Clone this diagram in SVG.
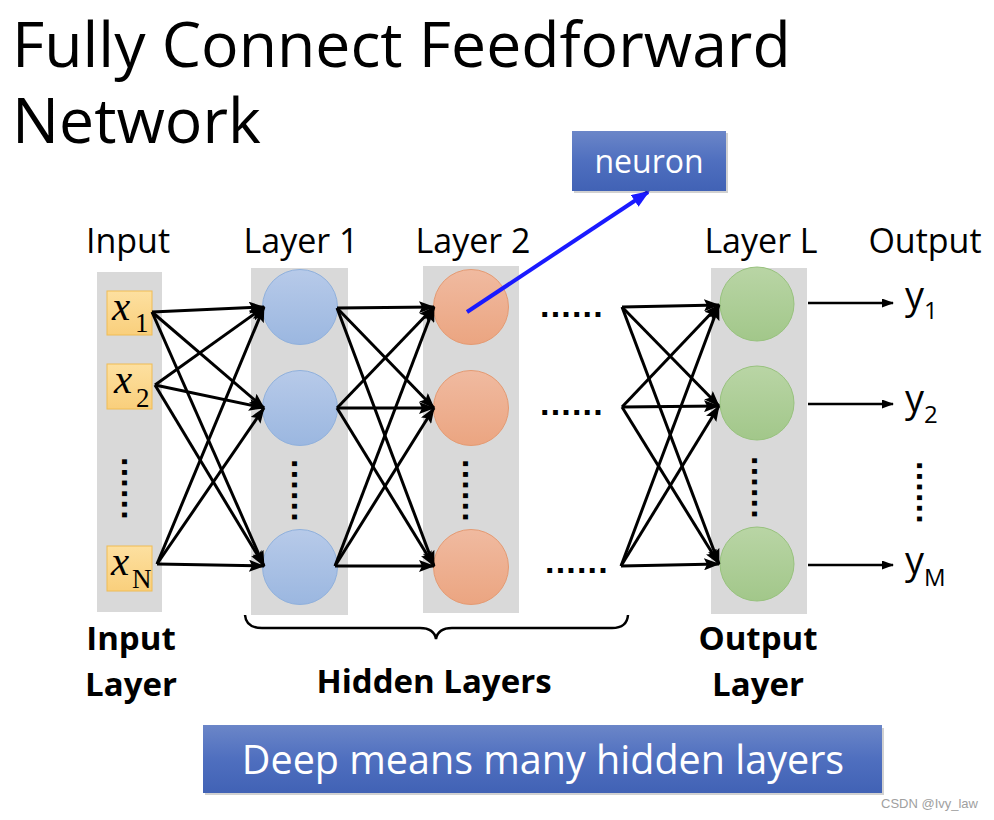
<svg xmlns="http://www.w3.org/2000/svg" width="994" height="820" viewBox="0 0 994 820">
<style>
.t{font-family:"Open Sans","Liberation Sans",sans-serif;fill:#000}
.b{font-family:"Open Sans","Liberation Sans",sans-serif;font-weight:bold;fill:#000}
.w{font-family:"Open Sans","Liberation Sans",sans-serif;fill:#fff}
.col{fill:#d9d9d9}
.xv{font-family:"Liberation Serif","DejaVu Serif",serif;font-style:italic;font-size:41px}
.xs{font-family:"Liberation Serif","DejaVu Serif",serif;font-size:27px}
.dots{font-family:"Liberation Sans",sans-serif;font-weight:bold;font-size:34px;letter-spacing:1.2px;fill:#000}
.conn line{stroke:#000;stroke-width:3;marker-end:url(#ah)}
.out line{stroke:#000;stroke-width:2.5;marker-end:url(#ahs)}
.blue{fill:url(#gb);stroke:#8fb0dc;stroke-width:1}
.ora{fill:url(#go);stroke:#e49a72;stroke-width:1}
.grn{fill:url(#gg);stroke:#98c27e;stroke-width:1}
.inbox{fill:url(#gy);stroke:#f0bc55;stroke-width:1}
</style>
<defs>
<linearGradient id="gb" x1="0" y1="0" x2="0" y2="1"><stop offset="0" stop-color="#b7cae9"/><stop offset="1" stop-color="#9bb7e0"/></linearGradient>
<linearGradient id="go" x1="0" y1="0" x2="0" y2="1"><stop offset="0" stop-color="#f0baa0"/><stop offset="1" stop-color="#eba581"/></linearGradient>
<linearGradient id="gg" x1="0" y1="0" x2="0" y2="1"><stop offset="0" stop-color="#b9d5a5"/><stop offset="1" stop-color="#a2c78a"/></linearGradient>
<linearGradient id="gy" x1="0" y1="0" x2="0" y2="1"><stop offset="0" stop-color="#fde0a0"/><stop offset="1" stop-color="#f9cf7c"/></linearGradient>
<linearGradient id="gbox" x1="0" y1="0" x2="0" y2="1"><stop offset="0" stop-color="#6b86c8"/><stop offset="0.5" stop-color="#4f6fbf"/><stop offset="1" stop-color="#4162b5"/></linearGradient>
<marker id="ah" markerUnits="userSpaceOnUse" markerWidth="16" markerHeight="12" refX="15" refY="6" orient="auto"><path d="M0,0 L16,6 L0,12 L3,6 z" fill="#000"/></marker>
<marker id="ahs" markerUnits="userSpaceOnUse" markerWidth="12" markerHeight="9" refX="11" refY="4.5" orient="auto"><path d="M0,0 L12,4.5 L0,9 z" fill="#000"/></marker>
<marker id="ahb" markerUnits="userSpaceOnUse" markerWidth="18" markerHeight="14" refX="16" refY="7" orient="auto"><path d="M0,0 L18,7 L0,14 z" fill="#1a1aff"/></marker>
</defs>
<rect width="994" height="820" fill="#fff"/>

<g id="title">
<text class="t" font-size="62.5"><tspan x="12" y="67">Fully Connect Feedforward</tspan><tspan x="12" y="143">Network</tspan></text>
</g>

<g id="labels">
<text class="t" x="128" y="253" font-size="34" text-anchor="middle">Input</text>
<text class="t" x="301" y="253" font-size="34" text-anchor="middle">Layer 1</text>
<text class="t" x="473" y="253" font-size="34" text-anchor="middle">Layer 2</text>
<text class="t" x="761" y="253" font-size="34" text-anchor="middle">Layer L</text>
<text class="t" x="925" y="253" font-size="34" text-anchor="middle">Output</text>
</g>

<g id="input-layer">
<rect class="col" x="97" y="272" width="65" height="340"/>
<rect class="inbox" x="107" y="291" width="45" height="44"/>
<rect class="inbox" x="107" y="364" width="45" height="45"/>
<rect class="inbox" x="107" y="546" width="45" height="45"/>
<text class="xv" x="112" y="320">x</text><text class="xs" x="135" y="332">1</text>
<text class="xv" x="114" y="393">x</text><text class="xs" x="136" y="407">2</text>
<text class="xv" x="111" y="575">x</text><text class="xs" x="132" y="588">N</text>
<text class="dots" transform="translate(122,457) rotate(90)">......</text>
</g>

<g id="layer1">
<rect class="col" x="251" y="268" width="97" height="347"/>
<circle class="blue" cx="300" cy="307" r="37.5"/>
<circle class="blue" cx="300" cy="408" r="37.5"/>
<circle class="blue" cx="300" cy="567" r="37.5"/>
<text class="dots" transform="translate(292,459) rotate(90)">......</text>
</g>

<g id="layer2">
<rect class="col" x="423" y="266" width="96" height="347"/>
<circle class="ora" cx="471" cy="307" r="37.5"/>
<circle class="ora" cx="471" cy="408" r="37.5"/>
<circle class="ora" cx="471" cy="567" r="37.5"/>
<text class="dots" transform="translate(463,459) rotate(90)">......</text>
</g>

<g id="ellipsis">
<text class="dots" x="540" y="317">......</text>
<text class="dots" x="540" y="415">......</text>
<text class="dots" x="545" y="573">......</text>
</g>

<g id="layerL">
<rect class="col" x="711" y="268" width="96" height="346"/>
<circle class="grn" cx="757" cy="304" r="37"/>
<circle class="grn" cx="757" cy="403" r="37"/>
<circle class="grn" cx="757" cy="564" r="37"/>
<text class="dots" transform="translate(752,456) rotate(90)">......</text>
</g>

<g id="outputs">
<text class="t" x="905" y="309" font-size="38">y</text><text class="t" x="924" y="319" font-size="24">1</text>
<text class="t" x="905" y="412" font-size="38">y</text><text class="t" x="924" y="423" font-size="24">2</text>
<text class="t" x="905" y="574" font-size="38">y</text><text class="t" x="924" y="586" font-size="24">M</text>
<text class="dots" transform="translate(917,461) rotate(90)">......</text>
</g>

<g id="connectors">
<g class="conn">
<line x1="152" y1="312" x2="264" y2="307"/>
<line x1="152" y1="312" x2="264" y2="408"/>
<line x1="152" y1="312" x2="264" y2="566"/>
<line x1="155" y1="385" x2="264" y2="307"/>
<line x1="155" y1="385" x2="264" y2="408"/>
<line x1="155" y1="385" x2="264" y2="566"/>
<line x1="157" y1="564" x2="264" y2="307"/>
<line x1="157" y1="564" x2="264" y2="408"/>
<line x1="157" y1="564" x2="264" y2="566"/>

<line x1="337" y1="308" x2="434" y2="307"/>
<line x1="337" y1="308" x2="434" y2="408"/>
<line x1="337" y1="308" x2="434" y2="566"/>
<line x1="337" y1="408" x2="434" y2="307"/>
<line x1="337" y1="408" x2="434" y2="408"/>
<line x1="337" y1="408" x2="434" y2="566"/>
<line x1="335" y1="566" x2="434" y2="307"/>
<line x1="335" y1="566" x2="434" y2="408"/>
<line x1="335" y1="566" x2="434" y2="566"/>

<line x1="622" y1="307" x2="719" y2="305"/>
<line x1="622" y1="307" x2="719" y2="406"/>
<line x1="622" y1="307" x2="719" y2="564"/>
<line x1="622" y1="407" x2="719" y2="305"/>
<line x1="622" y1="407" x2="719" y2="406"/>
<line x1="622" y1="407" x2="719" y2="564"/>
<line x1="621" y1="566" x2="719" y2="305"/>
<line x1="621" y1="566" x2="719" y2="406"/>
<line x1="621" y1="566" x2="719" y2="564"/>
</g>
<g class="out">
<line x1="808" y1="303" x2="893" y2="303"/>
<line x1="808" y1="404" x2="893" y2="404"/>
<line x1="808" y1="565" x2="893" y2="565"/>
</g>
<line x1="467" y1="312" x2="648" y2="192" stroke="#1a1aff" stroke-width="4" marker-end="url(#ahb)"/>
</g>

<g id="neuron">
<rect x="574" y="133" width="154" height="60" fill="#000" opacity="0.18"/>
<rect x="572" y="131" width="154" height="60" fill="url(#gbox)"/>
<text class="w" x="649" y="173" font-size="32" text-anchor="middle">neuron</text>
</g>

<g id="hidden-brace">
<path d="M245,615 Q246,628 262,628 L420,628 Q434,628 436,639 Q438,628 452,628 L612,628 Q627,628 628,615" fill="none" stroke="#000" stroke-width="2.5"/>
<text class="b" x="434" y="693" font-size="33" text-anchor="middle">Hidden Layers</text>
</g>

<g id="layer-names">
<text class="b" x="131" y="650" font-size="33" text-anchor="middle">Input</text>
<text class="b" x="131" y="696" font-size="33" text-anchor="middle">Layer</text>
<text class="b" x="758" y="650" font-size="33" text-anchor="middle">Output</text>
<text class="b" x="758" y="696" font-size="33" text-anchor="middle">Layer</text>
</g>

<g id="deep">
<rect x="205" y="728" width="679" height="67" fill="#000" opacity="0.18"/>
<rect x="203" y="725" width="679" height="68" fill="url(#gbox)"/>
<text class="w" x="543" y="774" font-size="39.5" text-anchor="middle">Deep means many hidden layers</text>
</g>

<text x="978" y="808" font-family="Liberation Sans, Arial, sans-serif" font-size="13" fill="#a0a0a0" text-anchor="end">CSDN @Ivy_law</text>
</svg>
